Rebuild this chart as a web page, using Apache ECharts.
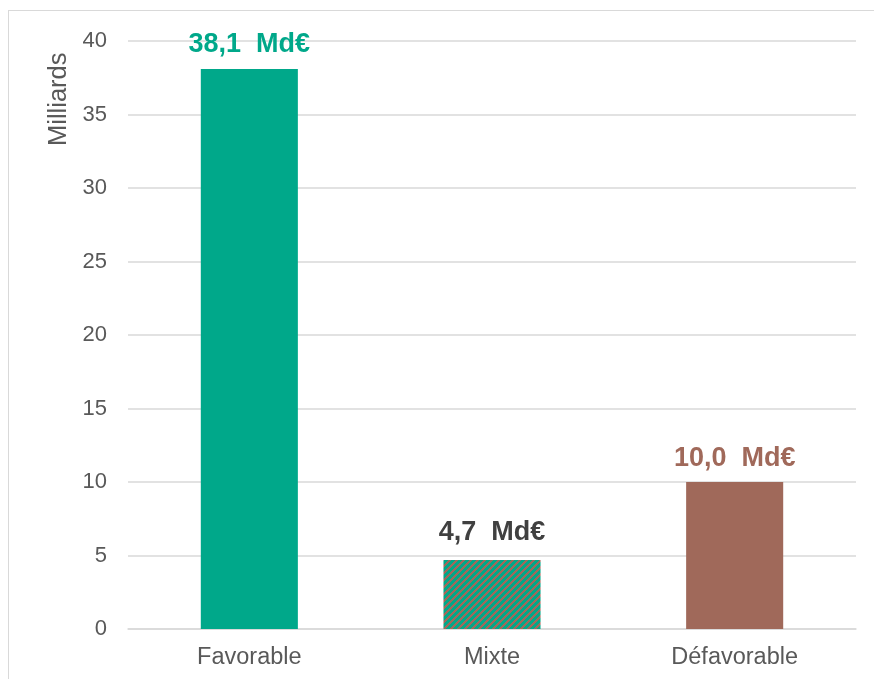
<!DOCTYPE html>
<html>
<head>
<meta charset="utf-8">
<script src="https://cdn.jsdelivr.net/npm/echarts@6/dist/echarts.min.js"></script>
<style>
html,body{margin:0;padding:0;background:#fff;}
#frame{position:absolute;left:8px;top:10px;width:900px;height:700px;border:1.5px solid #d9d9d9;box-sizing:border-box;}
#chart{position:absolute;left:0;top:0;width:874px;height:679px;}
</style>
</head>
<body>
<div id="frame"></div>
<div id="chart"></div>
<script>
const categories = ['Favorable', 'Mixte', 'Défavorable'];
const values = [38.1, 4.7, 10.0];
const labels = ['38,1  Md€', '4,7  Md€', '10,0  Md€'];
const yTicks = [0, 5, 10, 15, 20, 25, 30, 35, 40];

const teal = '#00A88A';
const brown = '#A0695A';
const FONT = 'Liberation Sans, Arial, sans-serif';

function stripes() {
  const s = 7;
  const c = document.createElement('canvas');
  c.width = s; c.height = s;
  const ctx = c.getContext('2d');
  for (let x = 0; x < s; x++) {
    for (let y = 0; y < s; y++) {
      ctx.fillStyle = ((x + y) % s) < 3 ? brown : teal;
      ctx.fillRect(x, y, 1, 1);
    }
  }
  return c;
}

const barColors = [teal, { image: stripes(), repeat: 'repeat' }, brown];
const labelColors = [teal, '#404040', brown];
const labelDist = [11, 14, 10];

const chart = echarts.init(document.getElementById('chart'), null, { renderer: 'canvas' });
chart.setOption({
  animation: false,
  grid: { left: 128, right: 18, top: 41, bottom: 50, containLabel: false },
  xAxis: {
    type: 'category',
    data: categories,
    axisLine: { lineStyle: { color: '#d9d9d9', width: 1.5 } },
    axisTick: { show: false },
    axisLabel: { color: '#595959', fontSize: 23.5, fontFamily: FONT, margin: 17 }
  },
  yAxis: {
    type: 'value',
    min: yTicks[0],
    max: yTicks[yTicks.length - 1],
    interval: 5,
    axisLine: { show: false },
    axisTick: { show: false },
    splitLine: { lineStyle: { color: '#d9d9d9', width: 1.5 } },
    axisLabel: { color: '#595959', fontSize: 22, fontFamily: FONT, margin: 21 }
  },
  graphic: [{
    type: 'text',
    x: 46,
    y: 146,
    rotation: Math.PI / 2,
    style: {
      text: 'Milliards',
      fill: '#595959',
      font: '25.5px ' + FONT
    }
  }],
  series: [{
    type: 'bar',
    barWidth: '40%',
    data: values.map((v, i) => ({
      value: v,
      itemStyle: { color: barColors[i] },
      label: {
        show: true,
        position: 'top',
        distance: labelDist[i],
        formatter: labels[i],
        color: labelColors[i],
        fontSize: 27,
        fontWeight: 'bold',
        fontFamily: FONT
      }
    }))
  }]
});
</script>
</body>
</html>
